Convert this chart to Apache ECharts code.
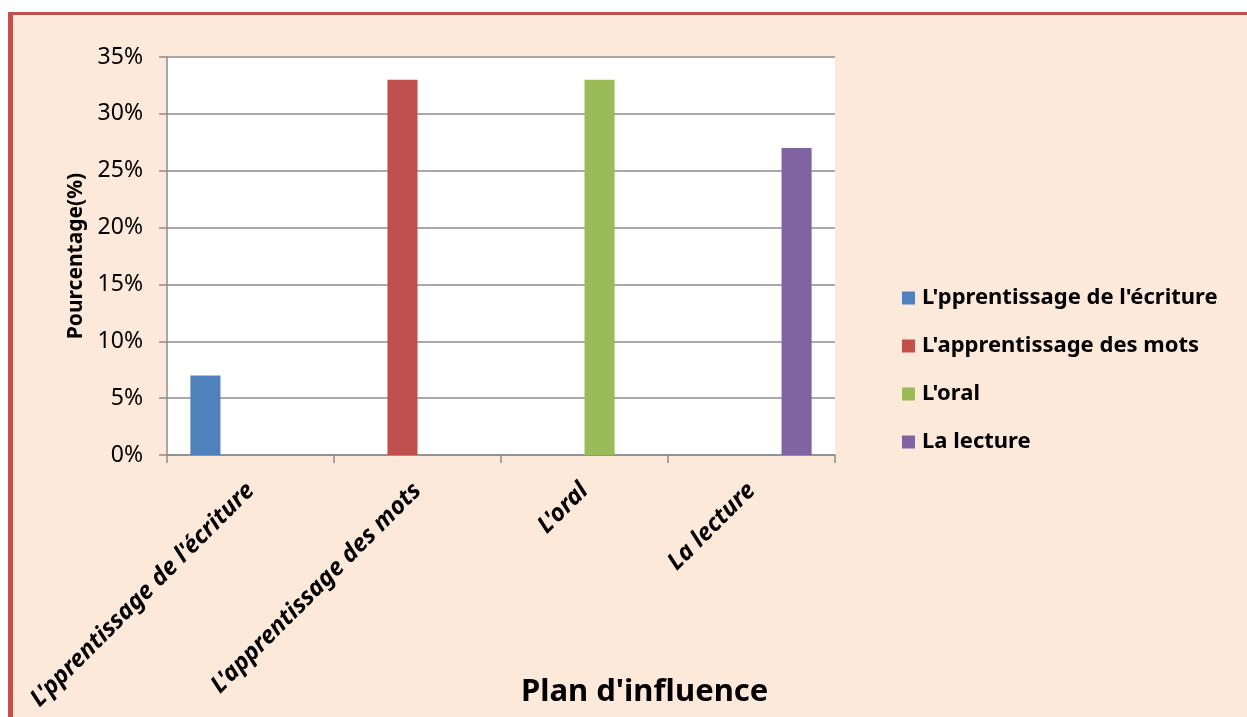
<!DOCTYPE html>
<html>
<head>
<meta charset="utf-8">
<script src="https://cdn.jsdelivr.net/npm/echarts@6/dist/echarts.min.js"></script>
<style>
  html, body { margin: 0; padding: 0; background: #ffffff; width: 1247px; height: 717px; overflow: hidden; }
  #frame {
    position: absolute; left: 8px; top: 12px; width: 1239px; height: 705px;
    box-sizing: border-box; border-left: 5px solid #C0504D; border-top: 3px solid #C0504D;
    background: #FDE9D9;
  }
  #chart { width: 1234px; height: 702px; }
</style>
</head>
<body>
<div id="frame"><div id="chart"></div></div>
<script>
// Categories on the x axis (each one also has its own series / legend entry)
const categories = [
  "L'pprentissage de l'écriture",
  "L'apprentissage des mots",
  "L'oral",
  "La lecture"
];
// Percentage for each category
const values = [7, 33, 33, 27];
const colors = ['#4F81BD', '#C0504D', '#9BBB59', '#8064A2'];
// Y axis range (percent)
const yMin = 0, yMax = 35, yStep = 5;

const font = 'Noto Sans';
const gridGray = '#8C8C8C';

// One series per category; only its own category holds a value
const series = categories.map((name, i) => ({
  name: name,
  type: 'bar',
  barGap: '0%',
  barCategoryGap: '28%',
  itemStyle: { color: colors[i] },
  data: categories.map((_, j) => (j === i ? values[i] : '-'))
}));

const chart = echarts.init(document.getElementById('chart'));
chart.setOption({
  animation: false,
  backgroundColor: 'transparent',
  title: {
    text: "Plan d'influence",
    left: 508,
    top: 662,
    padding: 0,
    textStyle: { fontFamily: font, fontWeight: 'bold', fontSize: 31, color: '#000' }
  },
  legend: {
    orient: 'vertical',
    left: 884,
    top: 267,
    itemWidth: 13,
    itemHeight: 13,
    itemGap: 26,
    icon: 'rect',
    textStyle: { fontFamily: font, fontWeight: 'bold', fontSize: 22, color: '#000', padding: [0, 0, 0, 2] },
    data: categories
  },
  grid: {
    left: 154, top: 42, right: 412, bottom: 262,
    show: true, backgroundColor: '#ffffff', borderWidth: 0,
    containLabel: false
  },
  xAxis: {
    type: 'category',
    data: categories,
    axisLine: { show: true, lineStyle: { color: gridGray, width: 1.5 } },
    axisTick: { show: true, length: 8, lineStyle: { color: gridGray, width: 1.5 } },
    axisLabel: {
      interval: 0,
      rotate: 45,
      margin: 32,
      fontFamily: font, fontWeight: 'bold', fontStyle: 'italic', fontSize: 24, color: '#000'
    },
    splitLine: { show: false }
  },
  yAxis: {
    type: 'value',
    min: yMin, max: yMax, interval: yStep,
    name: 'Pourcentage(%)',
    nameLocation: 'middle',
    nameRotate: 90,
    nameGap: 79,
    nameTextStyle: { fontFamily: font, fontWeight: 'bold', fontSize: 21, color: '#000' },
    axisLine: { show: true, lineStyle: { color: gridGray, width: 1.5 } },
    axisTick: { show: true, length: 8, lineStyle: { color: gridGray, width: 1.5 } },
    axisLabel: {
      formatter: '{value}%',
      margin: 24,
      fontFamily: font, fontSize: 23, color: '#000'
    },
    splitLine: { show: true, lineStyle: { color: gridGray, width: 1.5 } }
  },
  series: series
});
</script>
</body>
</html>
